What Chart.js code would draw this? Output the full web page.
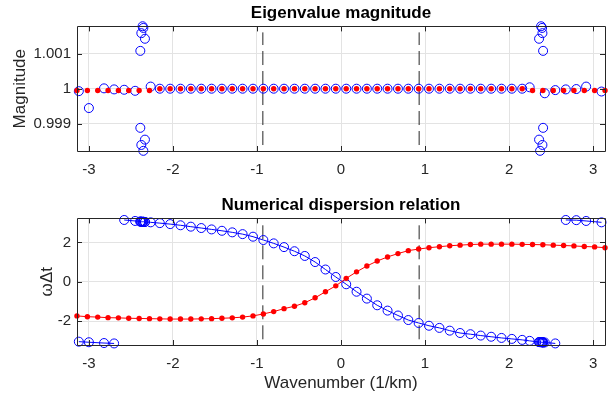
<!DOCTYPE html>
<html>
<head>
<meta charset="utf-8">
<script src="https://cdn.jsdelivr.net/npm/chart.js@4.4.0/dist/chart.umd.min.js"></script>
<style>
  html, body { margin: 0; padding: 0; background: #fff; }
  #wrap { position: relative; width: 612px; height: 399px; }
  .box { position: absolute; left: 0; width: 612px; }
</style>
</head>
<body>
<div id="wrap">
  <div class="box" style="top:0;height:190px"><canvas id="magChart"></canvas></div>
  <div class="box" style="top:190px;height:209px"><canvas id="dispChart"></canvas></div>
</div>
<script>
// wavenumber grid (1/km) of the red branch
var kGrid = [-3.142, -3.018, -2.895, -2.772, -2.649, -2.526, -2.402, -2.279, -2.156, -2.033,
  -1.910, -1.787, -1.663, -1.540, -1.417, -1.294, -1.171, -1.047, -0.924, -0.801,
  -0.678, -0.554, -0.431, -0.308, -0.185, -0.062, 0.062, 0.185, 0.308, 0.431,
  0.554, 0.678, 0.801, 0.924, 1.047, 1.171, 1.294, 1.417, 1.540, 1.663,
  1.787, 1.910, 2.033, 2.156, 2.279, 2.402, 2.526, 2.649, 2.772, 2.895,
  3.018, 3.142];
var redMag = [0.99995, 0.99995, 0.99995, 0.99995, 0.99995, 0.99995, 0.99995, 0.99995, 1, 1,
  1, 1, 1, 1, 1, 1, 1, 1, 1, 1,
  1, 1, 1, 1, 1, 1, 1, 1, 1, 1,
  1, 1, 1, 1, 1, 1, 1, 1, 1, 1,
  1, 1, 1, 1, 0.99995, 0.99995, 0.99995, 0.99995, 0.99995, 0.99995,
  0.99995, 0.99995];
var redPhase = [-1.74, -1.78, -1.80, -1.83, -1.84, -1.86, -1.87, -1.88, -1.89, -1.90,
  -1.90, -1.90, -1.89, -1.88, -1.86, -1.84, -1.80, -1.74, -1.64, -1.52,
  -1.37, -1.25, -1.07, -0.82, -0.51, -0.21, 0.17, 0.50, 0.80, 1.05,
  1.26, 1.43, 1.58, 1.66, 1.73, 1.78, 1.83, 1.86, 1.89, 1.91,
  1.91, 1.91, 1.91, 1.90, 1.89, 1.88, 1.86, 1.84, 1.82, 1.79,
  1.77, 1.73];

// blue branch (its own wavenumbers, incl. the clusters near +-2.37)
var blueK = [-3.12, -3.00, -2.82, -2.70, -2.58, -2.45,
  -2.388, -2.388, -2.376, -2.376, -2.361, -2.352, -2.352, -2.333, -2.333,
  -2.265, -2.156, -2.033,
  -1.910, -1.787, -1.663, -1.540, -1.417, -1.294, -1.171, -1.047, -0.924, -0.801,
  -0.678, -0.554, -0.431, -0.308, -0.185, -0.062, 0.062, 0.185, 0.308, 0.431,
  0.554, 0.678, 0.801, 0.924, 1.047, 1.171, 1.294, 1.417, 1.540, 1.663,
  1.787, 1.910, 2.033, 2.156, 2.245,
  2.357, 2.357, 2.369, 2.381, 2.393, 2.397, 2.397, 2.405, 2.405,
  2.425, 2.55, 2.675, 2.80, 2.917, 3.10];
var blueMag = [0.99993, 0.99945, 1.00001, 0.99998, 0.99997, 0.99994,
  1.001075, 0.998888, 1.001578, 0.998402, 1.001774, 1.001726, 0.998235, 1.001419, 0.998553,
  1.00006, 1, 1,
  1, 1, 1, 1, 1, 1, 1, 1, 1, 1,
  1, 1, 1, 1, 1, 1, 1, 1, 1, 1,
  1, 1, 1, 1, 1, 1, 1, 1, 1, 1,
  1, 1, 1, 1, 1.00004,
  1.001419, 0.998553, 0.998235, 1.001774, 1.001726, 1.001578, 0.998402, 1.001075, 0.998888,
  0.99987, 0.99996, 0.99998, 0.99999, 1.00006, 0.99992];
var bluePhase = [-3.05, -3.08, -3.12, -3.14, 3.14, 3.09,
  3.06, 3.06, 3.05, 3.05, 3.05, 3.05, 3.05, 3.04, 3.04,
  3.02, 2.98, 2.93,
  2.87, 2.80, 2.73, 2.66, 2.59, 2.51, 2.42, 2.29, 2.12, 1.95,
  1.76, 1.55, 1.31, 1.00, 0.62, 0.24, -0.13, -0.51, -0.86, -1.20,
  -1.47, -1.72, -1.95, -2.10, -2.24, -2.35, -2.49, -2.61, -2.67, -2.74,
  -2.80, -2.86, -2.91, -2.96, -3.01,
  -3.07, -3.07, -3.08, -3.08, -3.08, -3.08, -3.08, -3.09, -3.09,
  -3.09, -3.14, 3.14, 3.13, 3.09, 3.02];

// dashed markers at +-0.93
var dashK = [-0.93, 0.93];
var magDashY = [0.9984, 1.0016];
var dispDashY = [-2.93, 2.93];

var xTicks = [-3, -2, -1, 0, 1, 2, 3];
var magTicks = [0.999, 1, 1.001];
var dispTicks = [-2, 0, 2];

var FONT = '"Liberation Sans", Arial, Helvetica, sans-serif';
var AXC = '#262626';

function pts(xs, ys) {
  return xs.map(function (x, i) { return { x: x, y: ys[i] }; });
}

// MATLAB style box with inward ticks
var axesBox = {
  id: 'axesBox',
  afterDatasetsDraw: function (chart) {
    var ctx = chart.ctx, a = chart.chartArea, sx = chart.scales.x, sy = chart.scales.y;
    ctx.save();
    ctx.strokeStyle = AXC;
    ctx.lineWidth = 1;
    ctx.beginPath();
    ctx.rect(Math.round(a.left) + 0.5, Math.round(a.top) + 0.5,
      Math.round(a.right - a.left), Math.round(a.bottom - a.top));
    sx.ticks.forEach(function (t) {
      var p = Math.round(sx.getPixelForValue(t.value)) + 0.5;
      ctx.moveTo(p, a.bottom); ctx.lineTo(p, a.bottom - 5);
      ctx.moveTo(p, a.top); ctx.lineTo(p, a.top + 5);
    });
    sy.ticks.forEach(function (t) {
      var p = Math.round(sy.getPixelForValue(t.value)) + 0.5;
      ctx.moveTo(a.left, p); ctx.lineTo(a.left + 5, p);
      ctx.moveTo(a.right, p); ctx.lineTo(a.right - 5, p);
    });
    ctx.stroke();
    ctx.restore();
  }
};

function dashSets(ys) {
  return dashK.map(function (k) {
    return {
      data: [{ x: k, y: ys[0] }, { x: k, y: ys[1] }],
      showLine: true, borderColor: AXC, borderWidth: 1, borderDash: [14, 6],
      pointRadius: 0, order: 3, clip: false
    };
  });
}

function makeOptions(title, titlePad, yMin, yMax, yTicks, yTitle, yTitlePad, xHeight, xTitle) {
  return {
    responsive: true,
    maintainAspectRatio: false,
    animation: false,
    devicePixelRatio: 1,
    layout: { padding: { left: 0, right: 7, top: 0, bottom: 0 } },
    plugins: {
      legend: { display: false },
      tooltip: { enabled: false },
      title: {
        display: true, text: title, fullSize: false, color: '#000',
        font: { family: FONT, size: 17, weight: 'bold' }, padding: titlePad
      }
    },
    scales: {
      x: {
        type: 'linear', min: -Math.PI, max: Math.PI,
        afterBuildTicks: function (s) { s.ticks = xTicks.map(function (v) { return { value: v }; }); },
        afterFit: function (s) { s.height = xHeight; },
        grid: { color: '#e3e3e3', drawTicks: false },
        border: { display: false },
        ticks: { color: AXC, padding: 10, font: { family: FONT, size: 15 },
          callback: function (v) { return String(v); } },
        title: xTitle ? { display: true, text: xTitle, color: AXC,
          font: { family: FONT, size: 17 }, padding: { top: 0, bottom: 5 } } : { display: false }
      },
      y: {
        type: 'linear', min: yMin, max: yMax,
        afterBuildTicks: function (s) { s.ticks = yTicks.map(function (v) { return { value: v }; }); },
        afterFit: function (s) { s.width = 77; },
        grid: { color: '#e3e3e3', drawTicks: false },
        border: { display: false },
        ticks: { color: AXC, padding: 6, font: { family: FONT, size: 15 },
          callback: function (v) { return String(+v.toFixed(3)); } },
        title: { display: true, text: yTitle, color: AXC,
          font: { family: FONT, size: 17 }, padding: { top: yTitlePad, bottom: 0 } }
      }
    }
  };
}

new Chart(document.getElementById('magChart'), {
  type: 'scatter',
  data: {
    datasets: [
      { data: pts(kGrid, redMag), pointRadius: 2.7, pointBackgroundColor: '#ff0000',
        pointBorderWidth: 0, showLine: false, order: 1, clip: false },
      { data: pts(blueK, blueMag), pointRadius: 4.5, pointBorderColor: '#0000ff',
        pointBackgroundColor: 'rgba(0,0,0,0)', pointBorderWidth: 1, showLine: false, order: 2, clip: false }
    ].concat(dashSets(magDashY))
  },
  options: makeOptions('Eigenvalue magnitude', { top: 3, bottom: 3 }, 0.99823, 1.00177,
    magTicks, 'Magnitude', 10, 39, null),
  plugins: [axesBox]
});

new Chart(document.getElementById('dispChart'), {
  type: 'scatter',
  data: {
    datasets: [
      { data: pts(kGrid, redPhase), pointRadius: 2.7, pointBackgroundColor: '#ff0000',
        pointBorderWidth: 0, showLine: true, borderColor: '#ff0000', borderWidth: 1,
        order: 1, clip: false },
      { data: pts(blueK, bluePhase), pointRadius: 4.5, pointBorderColor: '#0000ff',
        pointBackgroundColor: 'rgba(0,0,0,0)', pointBorderWidth: 1, showLine: true,
        borderColor: '#0000ff', borderWidth: 1, order: 2, clip: false,
        segment: {
          // phase wraps at +-pi: no connecting line across the jump
          borderColor: function (c) {
            return Math.abs(c.p1.parsed.y - c.p0.parsed.y) > 3 ? 'rgba(0,0,0,0)' : '#0000ff';
          }
        } }
    ].concat(dashSets(dispDashY))
  },
  options: makeOptions('Numerical dispersion relation', { top: 5, bottom: 3 }, -3.22, 3.22,
    dispTicks, 'ωΔt', 37, 54, 'Wavenumber (1/km)'),
  plugins: [axesBox]
});
</script>
</body>
</html>
